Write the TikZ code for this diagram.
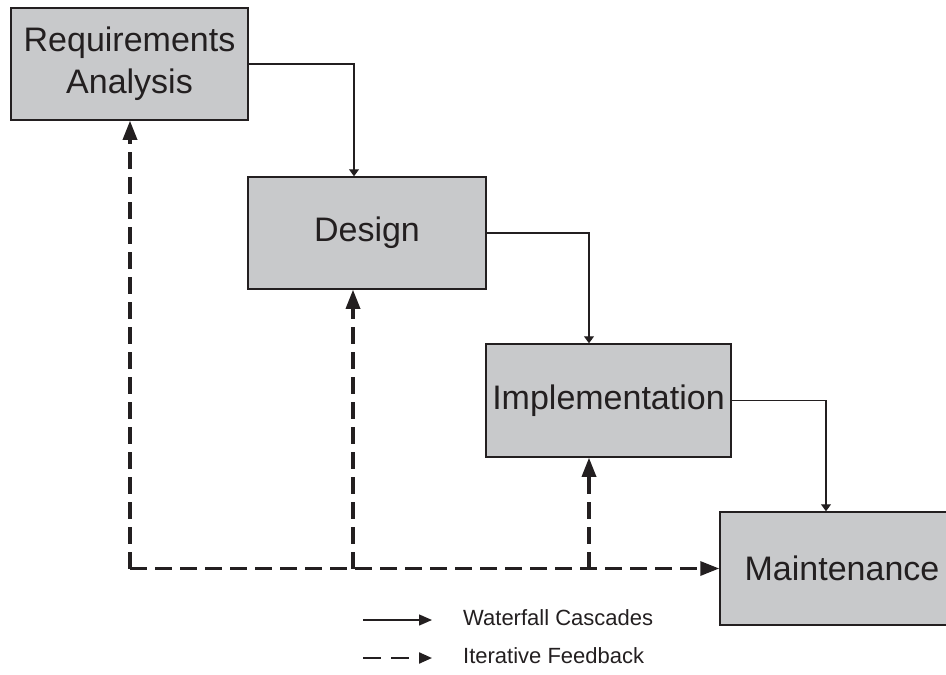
\documentclass[tikz,border=0pt]{standalone}
\usepackage{fontspec}
\setmainfont{Liberation Sans}
\usetikzlibrary{arrows.meta}
\definecolor{boxgray}{RGB}{200,201,203}
\definecolor{inkblack}{RGB}{35,31,32}
\begin{document}
\begin{tikzpicture}[x=1pt,y=-1pt,
    phase/.style={draw=inkblack,line width=1.5pt,fill=boxgray,minimum width=#1,
      minimum height=112pt,inner sep=0pt,align=center,text=inkblack,
      font=\fontsize{34}{42}\selectfont},
    cascade/.style={draw=inkblack,line width=1.1pt,-{Triangle[length=7pt,width=10pt]}},
    feedback/.style={draw=inkblack,line width=3.3pt,dash pattern=on 17pt off 8pt,
      -{Triangle[length=19pt,width=14pt]}},
    legendtext/.style={text=inkblack,anchor=west,inner sep=0pt,
      font=\fontsize{22}{26}\selectfont}]
    \useasboundingbox (0,0) rectangle (946,675);
    % the four phases
    \node [phase=237pt] (req) at (129.5,64) {Requirements\\Analysis};
    \node [phase=238pt] (des) at (367,233) {Design};
    \node [phase=245pt,minimum height=113pt] (imp) at (608.5,400.5) {Implementation};
    \node [phase=244pt,minimum height=113pt] (mai) at (842,568.5) {Maintenance};
    % waterfall cascades
    \draw [cascade] (req.east) -| ([xshift=-13pt]des.north);
    \draw [cascade] (des.east) -| ([xshift=-19.5pt]imp.north);
    \draw [cascade] (imp.east) -| ([xshift=-16pt]mai.north);
    % iterative feedback
    \coordinate (corner) at (130,568.5);
    \coordinate (desfoot) at ([xshift=-14pt]des.south);
    \coordinate (impfoot) at ([xshift=-19.5pt]imp.south);
    \draw [feedback] (corner) -- (mai.west);
    \draw [feedback] (corner) -- (corner |- req.south);
    \draw [feedback] (desfoot |- corner) -- (desfoot);
    \draw [feedback] (impfoot |- corner) -- (impfoot);
    % legend
    \coordinate (lc0) at (363,620);
    \coordinate (lc1) at (432,620);
    \coordinate (lf0) at (363,658);
    \coordinate (lf1) at (432,658);
    \draw [draw=inkblack,line width=1.4pt,-{Triangle[length=13pt,width=11pt]}] (lc0) -- (lc1);
    \draw [draw=inkblack,line width=2.2pt,dash pattern=on 18pt off 10pt,
      -{Triangle[length=13pt,width=11pt]}] (lf0) -- (lf1);
    \node [legendtext] (lctext) at (463,618) {Waterfall Cascades};
    \node [legendtext] (lftext) at (463,656) {Iterative Feedback};
\end{tikzpicture}
\end{document}
